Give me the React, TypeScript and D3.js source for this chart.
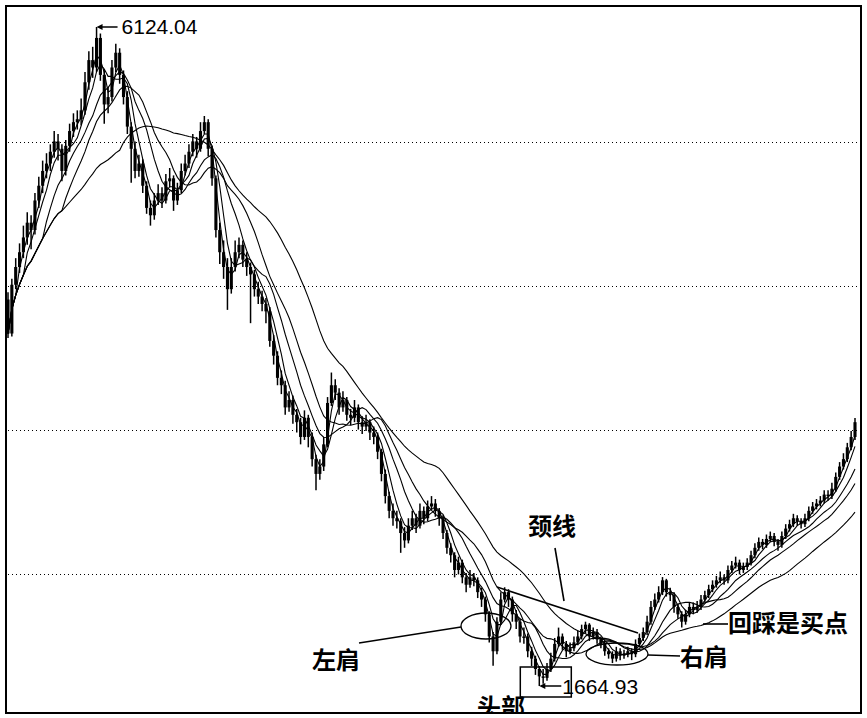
import React from 'react';
import * as d3 from 'd3';

// 2-trading-day bars, Shanghai Composite Aug 2007 – Aug 2009
const closes = [
  4050, 4380, 4500, 4600, 4700, 4800, 4750, 4950, 5050, 5150,
  5200, 5280, 5350, 5300, 5150, 5320, 5420, 5480, 5500, 5560,
  5750, 5900, 5850, 6050, 5800, 5600, 5650, 5850, 5950, 5800,
  5650, 5450, 5300, 5150, 5200, 5050, 4900, 4850, 4950, 5000,
  4950, 5080, 5100, 4950, 5020, 5150, 5200, 5280, 5350, 5300,
  5420, 5480, 5300, 5100, 4750, 4600, 4500, 4350, 4500, 4600,
  4650, 4550, 4500, 4450, 4350, 4300, 4250, 4200, 4000, 3900,
  3750, 3700, 3550, 3600, 3500, 3450, 3350, 3480, 3350, 3200,
  3100, 3150, 3300, 3580, 3700, 3650, 3550, 3600, 3500, 3480,
  3550, 3450, 3420, 3450, 3380, 3350, 3250, 3100, 2950, 2850,
  2800, 2780, 2700, 2650, 2750, 2800, 2750, 2850, 2800, 2880,
  2900, 2850, 2800, 2700, 2600, 2550, 2450, 2500, 2400, 2350,
  2400, 2380, 2300, 2250, 2150, 2000, 1900, 2100, 2250, 2300,
  2250, 2150, 2100, 2000, 2000, 1900, 1850, 1780, 1730, 1720,
  1780, 1850, 1950, 2000, 1950, 1900, 1920, 1960, 2000, 2050,
  2080, 2000, 2030, 1980, 1950, 1900, 1880, 1850, 1900, 1870,
  1880, 1900, 1880, 1950, 1990, 2030, 2100, 2200, 2250, 2300,
  2380, 2300, 2280, 2200, 2150, 2100, 2150, 2200, 2180, 2200,
  2250, 2280, 2320, 2350, 2380, 2400, 2380, 2450, 2480, 2500,
  2450, 2470, 2500, 2550, 2600, 2640, 2620, 2660, 2680, 2640,
  2620, 2680, 2730, 2760, 2800, 2780, 2760, 2800, 2850, 2880,
  2900, 2920, 2960, 2950, 3000, 3080, 3150, 3200, 3280, 3350,
  3450,
];

const highs = [
  4330, 4420, 4560, 4660, 4780, 4870, 4850, 5000, 5110, 5220,
  5270, 5330, 5420, 5400, 5330, 5360, 5470, 5540, 5560, 5640,
  5820, 5960, 5990, 6124.04, 6080, 5840, 5720, 5900, 6010, 5980,
  5830, 5690, 5480, 5350, 5260, 5230, 5080, 4950, 5000, 5060,
  5040, 5130, 5170, 5120, 5070, 5200, 5260, 5330, 5400, 5380,
  5480, 5522, 5500, 5320, 5120, 4800, 4680, 4560, 4560, 4680,
  4700, 4680, 4600, 4530, 4480, 4400, 4340, 4290, 4230, 4040,
  3930, 3800, 3730, 3660, 3630, 3540, 3480, 3530, 3500, 3380,
  3230, 3200, 3350, 3620, 3786, 3740, 3680, 3660, 3620, 3540,
  3600, 3570, 3490, 3500, 3470, 3420, 3380, 3270, 3130, 2980,
  2900, 2850, 2800, 2740, 2800, 2850, 2830, 2900, 2880, 2920,
  2950, 2930, 2870, 2820, 2720, 2630, 2570, 2540, 2520, 2430,
  2450, 2430, 2400, 2330, 2270, 2170, 2030, 2130, 2300, 2333,
  2320, 2270, 2180, 2120, 2060, 2020, 1930, 1870, 1800, 1780,
  1820, 1890, 1990, 2060, 2020, 1970, 1960, 2000, 2040, 2080,
  2100, 2090, 2060, 2050, 2000, 1970, 1920, 1900, 1930, 1920,
  1910, 1930, 1920, 1980, 2020, 2060, 2140, 2240, 2290, 2340,
  2402, 2390, 2330, 2300, 2220, 2170, 2180, 2230, 2230, 2240,
  2280, 2310, 2350, 2380, 2410, 2440, 2420, 2480, 2510, 2540,
  2520, 2500, 2530, 2580, 2630, 2670, 2660, 2690, 2710, 2700,
  2660, 2710, 2760, 2790, 2830, 2820, 2800, 2830, 2880, 2910,
  2930, 2950, 2990, 2990, 3040, 3110, 3180, 3240, 3310, 3390,
  3478,
];

const lows = [
  4020, 4030, 4350, 4460, 4560, 4650, 4620, 4720, 4900, 5000,
  5100, 5150, 5240, 5220, 5080, 5120, 5280, 5380, 5430, 5460,
  5530, 5700, 5780, 5820, 5760, 5470, 5540, 5620, 5820, 5740,
  5600, 5400, 5070, 5100, 5110, 5000, 4860, 4780, 4820, 4920,
  4900, 4930, 5040, 4880, 4920, 5000, 5120, 5170, 5250, 5240,
  5280, 5400, 5250, 5050, 4700, 4520, 4420, 4210, 4320, 4470,
  4560, 4500, 4440, 4120, 4300, 4250, 4200, 4120, 3960, 3840,
  3700, 3640, 3500, 3520, 3440, 3380, 3300, 3330, 3280, 3150,
  2990, 3060, 3120, 3280, 3560, 3600, 3500, 3520, 3460, 3430,
  3450, 3400, 3370, 3390, 3330, 3300, 3200, 3050, 2900, 2800,
  2750, 2730, 2566, 2600, 2630, 2720, 2700, 2730, 2760, 2780,
  2860, 2810, 2750, 2660, 2560, 2500, 2400, 2420, 2360, 2300,
  2330, 2340, 2260, 2200, 2100, 1960, 1802, 1880, 2080, 2230,
  2200, 2100, 2050, 1960, 1950, 1860, 1800, 1740, 1664.93, 1680,
  1700, 1760, 1830, 1930, 1910, 1860, 1880, 1900, 1940, 1980,
  2020, 1970, 1980, 1950, 1920, 1870, 1850, 1820, 1830, 1840,
  1850, 1860, 1840, 1860, 1930, 1970, 2010, 2080, 2180, 2230,
  2280, 2270, 2240, 2160, 2120, 2060, 2080, 2130, 2150, 2160,
  2180, 2230, 2260, 2300, 2330, 2360, 2350, 2360, 2430, 2460,
  2420, 2430, 2450, 2480, 2530, 2580, 2590, 2600, 2640, 2610,
  2580, 2600, 2660, 2710, 2740, 2750, 2730, 2740, 2780, 2830,
  2860, 2880, 2900, 2920, 2930, 2980, 3060, 3130, 3180, 3260,
  3330,
];

const firstOpen = 4280;
const maPeriods = [3, 5, 10, 15, 30];
const gridLevels = [5346, 4372, 3397, 2426];
const peakText = '6124.04';
const lowText = '1664.93';
const labelLeftShoulder = '左肩';
const labelHead = '头部';
const labelNeck = '颈线';
const labelRightShoulder = '右肩';
const labelBuy = '回踩是买点';

const W = 867;
const H = 718;

export default function App() {
  const n = closes.length;
  const x = d3.scaleLinear().domain([0, n - 1]).range([8, 855]);
  const y = d3
    .scaleLinear()
    .domain([d3.min(lows) as number, d3.max(highs) as number])
    .range([686, 27]);

  const opens = closes.map((c, i) => (i === 0 ? firstOpen : closes[i - 1]));
  const mas = maPeriods.map((p) =>
    closes.map((_, i) => d3.mean(closes.slice(Math.max(0, i - p + 1), i + 1)) as number)
  );
  const line = d3
    .line<number>()
    .x((_, i) => x(i))
    .y((v) => y(v));

  const peakIdx = d3.maxIndex(highs);
  const lowIdx = d3.minIndex(lows);
  const px = x(peakIdx);
  const py = y(highs[peakIdx]);
  const lx = x(lowIdx);
  const ly = y(lows[lowIdx]);

  const cjk = '"Noto Sans CJK SC", "Noto Sans CJK JP", sans-serif';
  const num = '"Liberation Sans", Arial, sans-serif';
  const bw = 3.1;

  return (
    <svg
      width={W}
      height={H}
      style={{ position: 'absolute', left: 0, top: 0, background: '#fff' }}
    >
      <defs>
        <clipPath id="plot">
          <rect x={6} y={6} width={855} height={707} />
        </clipPath>
      </defs>
      <rect x={0} y={0} width={W} height={H} fill="#fff" />
      <g clipPath="url(#plot)">
        {gridLevels.map((g) => (
          <line
            key={g}
            x1={8}
            x2={860}
            y1={Math.round(y(g)) + 0.5}
            y2={Math.round(y(g)) + 0.5}
            stroke="#000"
            strokeWidth={1}
            strokeDasharray="1 3"
          />
        ))}
        {mas.map((m, k) => (
          <path key={k} d={line(m) || ''} fill="none" stroke="#000" strokeWidth={1.1} />
        ))}
        {closes.map((c, i) => {
          const o = opens[i];
          const top = y(Math.max(o, c));
          const bot = y(Math.min(o, c));
          return (
            <g key={i}>
              <line
                x1={x(i)}
                x2={x(i)}
                y1={y(highs[i])}
                y2={y(lows[i])}
                stroke="#000"
                strokeWidth={1.5}
              />
              <rect
                x={x(i) - bw / 2}
                y={top}
                width={bw}
                height={Math.max(1.5, bot - top)}
                fill="#000"
              />
            </g>
          );
        })}

        {/* peak label */}
        <line x1={px + 4} x2={px + 21} y1={py} y2={py} stroke="#000" strokeWidth={1.5} />
        <path d={`M${px},${py} L${px + 6},${py - 3} L${px + 6},${py + 3} Z`} fill="#000" />
        <text x={px + 25} y={py + 7} fontFamily={num} fontSize={21} fill="#000">
          {peakText}
        </text>

        {/* low label */}
        <rect x={lx - 19} y={ly - 19} width={51} height={30} fill="none" stroke="#000" strokeWidth={1.5} />
        <line x1={lx + 4} x2={lx + 22} y1={ly} y2={ly} stroke="#000" strokeWidth={1.5} />
        <path d={`M${lx},${ly} L${lx + 6},${ly - 3} L${lx + 6},${ly + 3} Z`} fill="#000" />
        <text x={lx + 23} y={ly + 8} fontFamily={num} fontSize={21} fill="#000">
          {lowText}
        </text>

        {/* left shoulder */}
        <ellipse cx={486} cy={626} rx={25} ry={13} fill="none" stroke="#000" strokeWidth={1.3} />
        <line x1={359} y1={643} x2={461} y2={627} stroke="#000" strokeWidth={1.6} />
        <text x={312} y={669} fontFamily={cjk} fontWeight={700} fontSize={24} fill="#000">
          {labelLeftShoulder}
        </text>

        {/* head */}
        <text x={477} y={716} fontFamily={cjk} fontWeight={700} fontSize={24} fill="#000">
          {labelHead}
        </text>

        {/* neckline */}
        <line x1={497} y1={587} x2={638} y2={633} stroke="#000" strokeWidth={1.5} />
        <line x1={555} y1={548} x2={564} y2={601} stroke="#000" strokeWidth={1.6} />
        <text x={528} y={535} fontFamily={cjk} fontWeight={700} fontSize={24} fill="#000">
          {labelNeck}
        </text>

        {/* right shoulder */}
        <ellipse cx={617} cy={654} rx={31} ry={11} fill="none" stroke="#000" strokeWidth={1.3} />
        <line x1={648} y1={655} x2={680} y2={656} stroke="#000" strokeWidth={1.6} />
        <text x={680} y={666} fontFamily={cjk} fontWeight={700} fontSize={24} fill="#000">
          {labelRightShoulder}
        </text>

        {/* buy point */}
        <line x1={703} y1={624} x2={728} y2={624} stroke="#000" strokeWidth={1.6} />
        <text x={728} y={632} fontFamily={cjk} fontWeight={700} fontSize={24} fill="#000">
          {labelBuy}
        </text>
      </g>
      <rect x={6} y={6} width={855} height={707} fill="none" stroke="#000" strokeWidth={2} />
    </svg>
  );
}
